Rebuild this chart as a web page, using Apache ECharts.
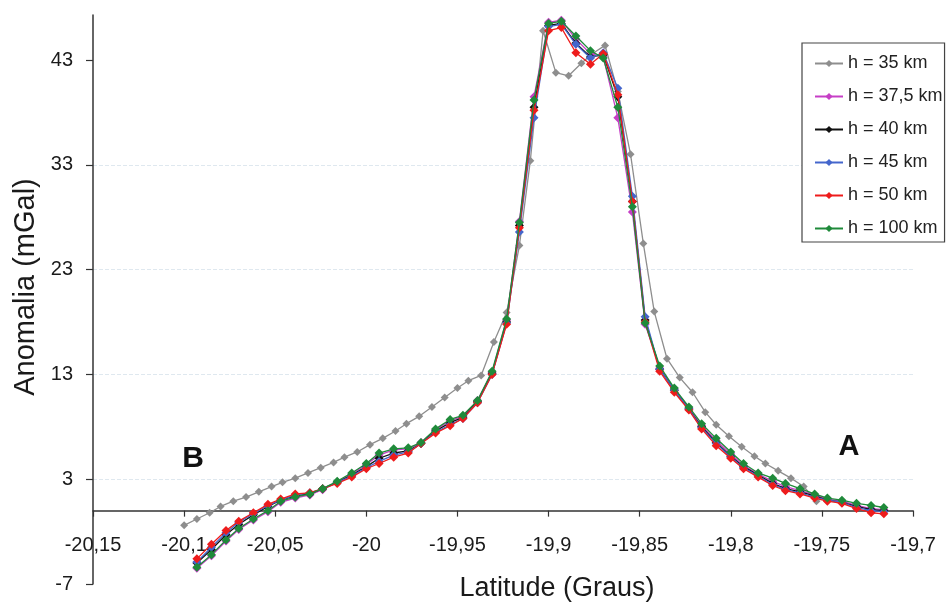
<!DOCTYPE html>
<html>
<head>
<meta charset="utf-8">
<script src="https://cdn.jsdelivr.net/npm/echarts@6/dist/echarts.min.js"></script>
<style>
html,body{margin:0;padding:0;background:#fff;}
#c{width:946px;height:604px;}
</style>
</head>
<body>
<div id="c"></div>
<script>
// Latitudes (degrees) of profile stations
const latColored = [-20.093,-20.085,-20.077,-20.070,-20.062,-20.054,-20.047,-20.039,-20.031,-20.024,
  -20.016,-20.008,-20.000,-19.993,-19.985,-19.977,-19.970,-19.962,-19.954,-19.947,
  -19.939,-19.931,-19.923,-19.916,-19.908,-19.900,-19.893,-19.885,-19.877,-19.870,
  -19.862,-19.854,-19.847,-19.839,-19.831,-19.823,-19.816,-19.808,-19.800,-19.793,
  -19.785,-19.777,-19.770,-19.762,-19.754,-19.747,-19.739,-19.731,-19.723,-19.716];
const latGray = [-20.100,-20.093,-20.086,-20.080,-20.073,-20.066,-20.059,-20.052,-20.046,-20.039,
  -20.032,-20.025,-20.018,-20.012,-20.005,-19.998,-19.991,-19.984,-19.978,-19.971,
  -19.964,-19.957,-19.950,-19.944,-19.937,-19.930,-19.923,-19.916,-19.910,-19.903,
  -19.896,-19.889,-19.882,-19.876,-19.869,-19.862,-19.855,-19.848,-19.842,-19.835,
  -19.828,-19.821,-19.814,-19.808,-19.801,-19.794,-19.787,-19.781,-19.774,-19.767,
  -19.760,-19.753];

// Anomaly values (mGal)
const h35 = [-1.4,-0.8,-0.2,0.4,0.9,1.3,1.8,2.3,2.7,3.1,
  3.6,4.1,4.6,5.1,5.6,6.3,6.9,7.6,8.3,9.0,
  9.9,10.8,11.7,12.4,12.9,16.1,18.9,25.3,33.4,45.8,
  41.8,41.5,42.7,43.6,44.4,40.0,34.0,25.5,19.0,14.5,
  12.7,11.3,9.4,8.2,7.1,6.1,5.2,4.5,3.8,3.1,
  2.3,0.9];
const h37_5 = [-5.5,-4.3,-2.9,-1.8,-0.9,-0.1,0.8,1.2,1.5,2.0,
  2.7,3.5,4.4,5.3,5.8,5.9,6.5,7.7,8.6,9.0,
  10.5,13.2,18.2,27.6,39.5,46.6,46.8,45.0,43.6,43.3,
  37.5,28.5,17.8,13.6,11.6,9.8,8.1,6.7,5.4,4.3,
  3.5,2.8,2.3,1.9,1.5,1.1,0.9,0.5,0.2,0.1];
const h40 = [-5.0,-3.7,-2.3,-1.3,-0.4,0.4,1.0,1.4,1.6,2.1,
  2.7,3.4,4.2,5.0,5.5,5.7,6.4,7.6,8.4,8.9,
  10.4,13.1,18.0,27.2,38.5,46.3,46.5,44.6,43.3,43.5,
  39.5,29.5,18.2,13.5,11.5,9.7,8.0,6.5,5.2,4.2,
  3.4,2.6,2.1,1.8,1.4,1.0,0.8,0.4,0.1,0.0];
const h45 = [-4.9,-3.5,-2.1,-1.1,-0.3,0.5,1.0,1.5,1.7,2.1,
  2.7,3.3,4.1,4.7,5.3,5.6,6.4,7.5,8.2,8.8,
  10.3,13.0,17.9,26.6,37.5,46.2,46.4,44.5,43.2,43.7,
  40.3,30.0,18.5,13.5,11.5,9.7,7.9,6.4,5.1,4.1,
  3.3,2.5,2.0,1.7,1.3,1.0,0.8,0.3,0.0,-0.1];
const h50 = [-4.6,-3.2,-1.9,-1.0,-0.2,0.6,1.1,1.6,1.7,2.1,
  2.6,3.2,4.0,4.5,5.1,5.5,6.4,7.4,8.1,8.8,
  10.3,13.0,17.8,27.0,38.2,45.8,46.1,43.7,42.6,43.6,
  39.7,29.5,18.0,13.3,11.3,9.6,7.8,6.2,5.0,4.0,
  3.2,2.4,1.9,1.6,1.2,0.9,0.7,0.2,-0.2,-0.3];
const h100 = [-5.4,-4.2,-2.8,-1.7,-0.8,0.0,0.9,1.3,1.6,2.1,
  2.8,3.6,4.5,5.5,5.9,6.0,6.5,7.8,8.7,9.1,
  10.5,13.3,18.3,27.5,39.2,46.5,46.7,45.3,43.9,43.2,
  38.5,29.0,17.9,13.8,11.7,9.9,8.3,6.9,5.6,4.5,
  3.6,3.1,2.6,2.1,1.6,1.2,1.0,0.7,0.5,0.3];

const seriesNames = ['h = 35 km','h = 37,5 km','h = 40 km','h = 45 km','h = 50 km','h = 100 km'];
const seriesColors = ['#8e8e8e','#c63fc6','#111111','#4466cc','#ee1c1c','#1f8a3a'];
const yTicks = [-7,3,13,23,33,43];

const pair = (xs, ys) => xs.map((x, i) => [x, ys[i]]);
const seriesData = [pair(latGray,h35), pair(latColored,h37_5), pair(latColored,h40),
                    pair(latColored,h45), pair(latColored,h50), pair(latColored,h100)];

const font = 'Liberation Sans, Arial, Helvetica, sans-serif';
const X_MIN = -20.15, X_MAX = -19.7, X_STEP = 0.05;
const Y_MIN = -7, Y_MAX = 47.3;
const GL = 93, GR = 33, GT = 15, GB = 20;
const plotH = 604 - GT - GB;
const zeroY = GT + plotH * (Y_MAX - 0) / (Y_MAX - Y_MIN);

const chart = echarts.init(document.getElementById('c'), null, {renderer:'canvas'});
chart.setOption({
  animation:false,
  backgroundColor:'#ffffff',
  grid:[
    {left:GL,right:GR,top:GT,bottom:GB,containLabel:false,outerBoundsMode:'none'},
    {left:GL,right:GR,top:GT,height:zeroY-GT,containLabel:false,outerBoundsMode:'none'}
  ],
  xAxis:[
    {type:'value',gridIndex:0,min:X_MIN,max:X_MAX,interval:X_STEP,show:false,splitLine:{show:false}},
    {type:'value',gridIndex:1,min:X_MIN,max:X_MAX,interval:X_STEP,position:'bottom',
      axisLine:{onZero:false,lineStyle:{color:'#333',width:1.5}},
      axisTick:{show:true,length:6,lineStyle:{color:'#333',width:1.2}},
      axisLabel:{margin:25,fontSize:20,color:'#1a1a1a',fontFamily:font,
        formatter:v=>String(+(+v).toFixed(2)).replace('.',',')},
      splitLine:{show:false}}
  ],
  yAxis:[
    {type:'value',gridIndex:0,min:Y_MIN,max:Y_MAX,interval:10,
      axisLine:{show:true,onZero:false,lineStyle:{color:'#333',width:1.5}},
      axisTick:{show:true,length:7,customValues:yTicks,lineStyle:{color:'#333',width:1.2}},
      axisLabel:{margin:20,fontSize:20,color:'#1a1a1a',fontFamily:font,customValues:yTicks},
      splitLine:{show:true,showMinLine:false,showMaxLine:false,lineStyle:{color:'#dfe8ef',type:'dashed',width:1}}},
    {type:'value',gridIndex:1,min:0,max:1,show:false,splitLine:{show:false}}
  ],
  legend:{
    orient:'vertical',left:802,top:43,
    padding:[11,2,4,12],itemGap:14,itemWidth:28,itemHeight:9,
    borderColor:'#444',borderWidth:1.2,backgroundColor:'#fff',
    textStyle:{fontSize:18,lineHeight:19,color:'#222',fontFamily:font},
    data:seriesNames
  },
  graphic:[
    {type:'text',x:557,y:589,style:{text:'Latitude (Graus)',fill:'#1a1a1a',font:'27px '+font,textAlign:'center',textVerticalAlign:'middle'}},
    {type:'text',x:26,y:287,rotation:Math.PI/2,style:{text:'Anomalia (mGal)',fill:'#1a1a1a',font:'29px '+font,textAlign:'center',textVerticalAlign:'middle'}},
    {type:'text',x:193,y:459,style:{text:'B',fill:'#111',font:'bold 30px '+font,textAlign:'center',textVerticalAlign:'middle'}},
    {type:'text',x:849,y:447,style:{text:'A',fill:'#111',font:'bold 29px '+font,textAlign:'center',textVerticalAlign:'middle'}}
  ],
  series:seriesNames.map((n,i)=>({
    name:n,type:'line',xAxisIndex:0,yAxisIndex:0,data:seriesData[i],
    symbol:'diamond',symbolSize:i===0?8:9,
    lineStyle:{width:1.3,color:seriesColors[i]},
    itemStyle:{color:seriesColors[i]},
    color:seriesColors[i],
    z:2+i
  }))
});
</script>
</body>
</html>
